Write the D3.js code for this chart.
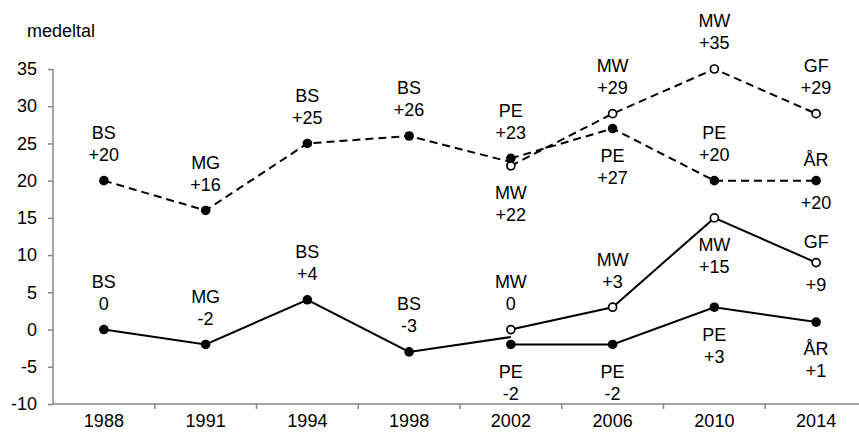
<!DOCTYPE html>
<html><head><meta charset="utf-8">
<script src="https://cdn.jsdelivr.net/npm/d3@7"></script>
<style>body{margin:0;background:#fff}svg{display:block}text{font-family:"Liberation Sans",Arial,sans-serif;fill:#000}</style>
</head><body><svg id="c" width="859" height="432"></svg>
<script>
// ---- data ----
const years = ["1988","1991","1994","1998","2002","2006","2010","2014"];
const yTicks = [-10,-5,0,5,10,15,20,25,30,35];
const yLabel = "medeltal";
// common series 1988-1998 (line continues to the split point in 2002)
const baseYears = ["1988","1991","1994","1998","2002"];
const dashedBase = [20,16,25,26,22.5];
const solidBase = [0,-2,4,-3,-1];
const baseParties = ["BS","MG","BS","BS"];
// split series 2002-2014
const splitYears = ["2002","2006","2010","2014"];
const dashedFilled = [23,27,20,20];
const dashedOpen = [22,29,35,29];
const solidFilled = [-2,-2,3,1];
const solidOpen = [0,3,15,9];
const filledParties = ["PE","PE","PE","ÅR"];
const openParties = ["MW","MW","MW","GF"];

// ---- drawing ----
const FS = 18;
const svg = d3.select("#c");
const x = d3.scaleBand().domain(years).range([53, 867]);
const y = d3.scaleLinear().domain([-10,35]).range([404,69]);
const cx = d => x(d) + x.bandwidth()/2;
const gray = "#868686";

// y axis
const ya = svg.append("g").attr("transform","translate(53,0)")
  .call(d3.axisLeft(y).tickValues(yTicks).tickSize(5).tickPadding(11).tickFormat(d=>String(d)));
ya.select(".domain").attr("stroke",gray).attr("stroke-width",1.5).attr("d","M0,69V404");
ya.selectAll(".tick line").attr("stroke",gray).attr("stroke-width",1.5);
ya.selectAll(".tick text").attr("font-size",FS).attr("font-family","Liberation Sans, Arial, sans-serif").attr("fill","#000");

// x axis
const xa = svg.append("g").attr("transform","translate(0,404)")
  .call(d3.axisBottom(x).tickSize(0).tickPadding(0));
xa.select(".domain").attr("stroke",gray).attr("stroke-width",1.5).attr("d","M53,0H867");
xa.selectAll(".tick text").attr("font-size",FS).attr("font-family","Liberation Sans, Arial, sans-serif")
  .attr("fill","#000").attr("y",17).attr("dy","0.35em");
xa.selectAll(".bnd").data(years).enter().append("line")
  .attr("x1",d=>x(d)+x.bandwidth()).attr("x2",d=>x(d)+x.bandwidth())
  .attr("y1",0).attr("y2",5).attr("stroke",gray).attr("stroke-width",1.5);

svg.append("text").attr("x",27).attr("y",37).attr("font-size",FS).text(yLabel);

const line = d3.line().x(d=>cx(d[0])).y(d=>y(d[1]));
function drawLine(yrs, vals, dashed){
  svg.append("path").datum(yrs.map((yr,i)=>[yr,vals[i]]))
    .attr("d",line).attr("fill","none").attr("stroke","#000")
    .attr("stroke-width",2).attr("stroke-dasharray",dashed?"8,5":null);
}
drawLine(baseYears, dashedBase, true);
drawLine(splitYears, dashedFilled, true);
drawLine(splitYears, dashedOpen, true);
drawLine(baseYears, solidBase, false);
drawLine(splitYears, solidFilled, false);
drawLine(splitYears, solidOpen, false);

function markers(yrs, vals, open){
  svg.append("g").selectAll("circle").data(yrs.map((yr,i)=>[yr,vals[i]])).enter()
    .append("circle").attr("cx",d=>cx(d[0])).attr("cy",d=>y(d[1]))
    .attr("r", open?4:4.8)
    .attr("fill", open?"#fff":"#000").attr("stroke","#000").attr("stroke-width",open?1.7:0);
}
markers(baseYears.slice(0,4), dashedBase.slice(0,4), false);
markers(baseYears.slice(0,4), solidBase.slice(0,4), false);
markers(splitYears, dashedFilled, false);
markers(splitYears, solidFilled, false);
markers(splitYears, dashedOpen, true);
markers(splitYears, solidOpen, true);

const fmt = v => v>0 ? "+"+v : String(v);
const offs = {above:[-48,-26], below:[27,49], center:[-21,22]};
function labels(yrs, vals, parties, place){
  yrs.forEach((yr,i)=>{
    if(i>=parties.length) return;
    const o = offs[place[i]];
    const px = cx(yr), py = y(vals[i]);
    svg.append("text").attr("x",px).attr("y",py+o[0]).attr("dy","0.35em")
      .attr("text-anchor","middle").attr("font-size",FS).text(parties[i]);
    svg.append("text").attr("x",px).attr("y",py+o[1]).attr("dy","0.35em")
      .attr("text-anchor","middle").attr("font-size",FS).text(fmt(vals[i]));
  });
}
labels(baseYears, dashedBase, baseParties, ["above","above","above","above"]);
labels(baseYears, solidBase, baseParties, ["above","above","above","above"]);
labels(splitYears, dashedFilled, filledParties, ["above","below","above","center"]);
labels(splitYears, dashedOpen, openParties, ["below","above","above","above"]);
labels(splitYears, solidFilled, filledParties, ["below","below","below","below"]);
labels(splitYears, solidOpen, openParties, ["above","above","below","center"]);
</script></body></html>
